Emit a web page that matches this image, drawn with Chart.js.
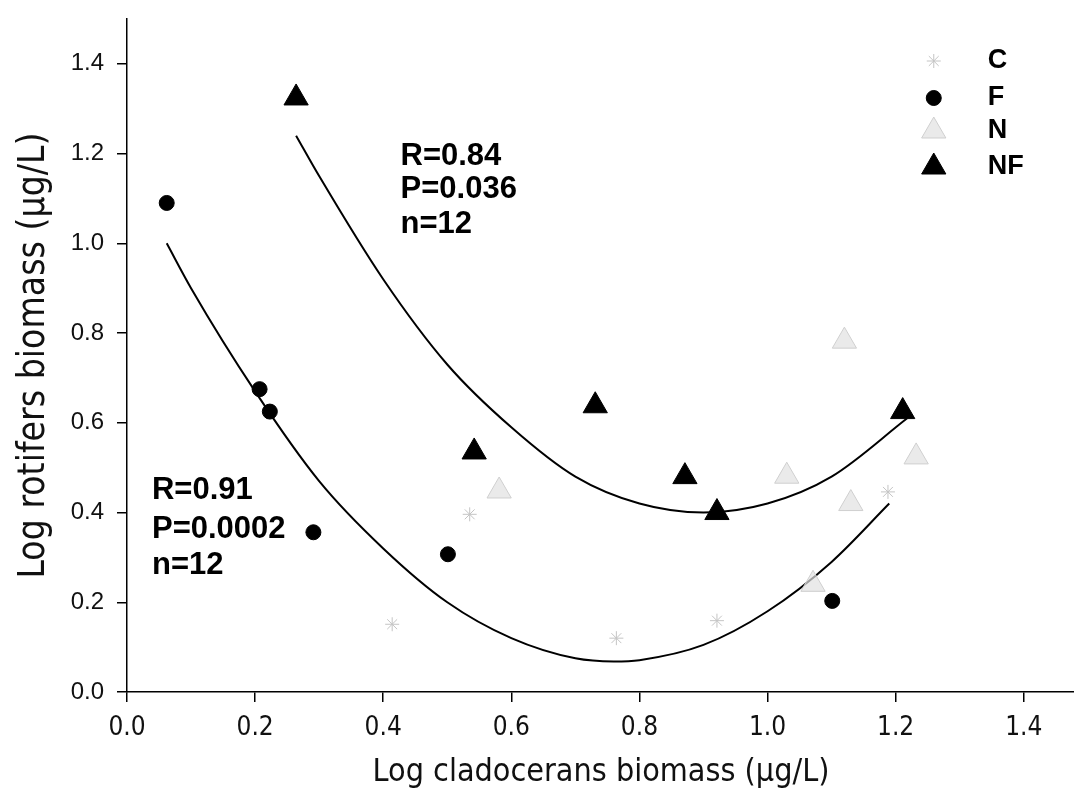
<!DOCTYPE html>
<html>
<head>
<meta charset="utf-8">
<script src="https://cdn.jsdelivr.net/npm/chart.js@4.4.1/dist/chart.umd.min.js"></script>
<style>
  html, body { margin: 0; padding: 0; background: #fff; overflow: hidden; }
  #clip { width: 1074px; height: 809px; overflow: hidden; position: relative; }
  #wrap { width: 1090px; height: 809px; position: relative; }
</style>
</head>
<body>
<div id="clip"><div id="wrap"><canvas id="plot"></canvas></div></div>
<script>
// data (log biomass, ug/L)
const cX = [0.535, 0.414, 0.764, 0.921, 1.188];
const cY = [0.396, 0.151, 0.120, 0.159, 0.446];
const fX = [0.062, 0.207, 0.223, 0.291, 0.501, 1.101];
const fY = [1.090, 0.675, 0.625, 0.356, 0.307, 0.203];
const nX = [0.581, 1.120, 1.232, 1.030, 1.130, 1.071];
const nY = [0.448, 0.782, 0.524, 0.481, 0.420, 0.240];
const nfX = [0.264, 0.542, 0.731, 0.871, 0.921, 1.211];
const nfY = [1.324, 0.535, 0.638, 0.480, 0.400, 0.625];

// fitted curves
const fFitX = [0.062, 0.1, 0.2, 0.3, 0.4, 0.5, 0.6, 0.7, 0.76, 0.8, 0.9, 1.0, 1.1, 1.19];
const fFitY = [1.00, 0.90, 0.67, 0.47, 0.32, 0.20, 0.12, 0.075, 0.068, 0.071, 0.105, 0.18, 0.29, 0.42];
const nfFitX = [0.264, 0.3, 0.4, 0.5, 0.6, 0.7, 0.8, 0.9, 1.0, 1.1, 1.218];
const nfFitY = [1.24, 1.15, 0.92, 0.73, 0.59, 0.48, 0.42, 0.40, 0.42, 0.48, 0.61];

const xTicks = [0, 0.2, 0.4, 0.6, 0.8, 1.0, 1.2, 1.4];
const yTicks = [0, 0.2, 0.4, 0.6, 0.8, 1.0, 1.2, 1.4];

// stats labels: [x, y] in data units
const statsUpper = ['R=0.84', 'P=0.036', 'n=12'];
const statsUpperPos = [[0.427, 1.193], [0.427, 1.119], [0.427, 1.041]];
const statsLower = ['R=0.91', 'P=0.0002', 'n=12'];
const statsLowerPos = [[0.039, 0.450], [0.039, 0.363], [0.039, 0.281]];

const legendLabels = ['C', 'F', 'N', 'NF'];

const pts = (xs, ys) => xs.map((x, i) => ({x: x, y: ys[i]}));

const narrow = "'Liberation Sans Narrow', 'DejaVu Sans Condensed', 'Liberation Sans', sans-serif";
const sans = "'Liberation Sans', Arial, sans-serif";

const styleC = {pointStyle: 'star', pointRadius: 7, borderColor: '#c4c4c4', backgroundColor: '#e4e4e4', pointBorderWidth: 1};
const styleF = {pointStyle: 'circle', pointRadius: 7.5, borderColor: '#000', backgroundColor: '#000', pointBorderWidth: 1};
const styleN = {pointStyle: 'triangle', pointRadius: 14, borderColor: '#cfcfcf', backgroundColor: 'rgba(225,225,225,0.7)', pointBorderWidth: 1};
const styleNF = {pointStyle: 'triangle', pointRadius: 14, borderColor: '#000', backgroundColor: '#000', pointBorderWidth: 1};

const overlay = {
  id: 'overlay',
  afterDatasetsDraw(chart) {
    const ctx = chart.ctx;
    const xs = chart.scales.x, ys = chart.scales.y;
    ctx.save();
    ctx.fillStyle = '#000';
    ctx.font = 'bold 31px ' + sans;
    ctx.textAlign = 'left';
    ctx.textBaseline = 'middle';
    statsUpper.forEach((t, i) => {
      ctx.fillText(t, xs.getPixelForValue(statsUpperPos[i][0]), ys.getPixelForValue(statsUpperPos[i][1]));
    });
    statsLower.forEach((t, i) => {
      ctx.fillText(t, xs.getPixelForValue(statsLowerPos[i][0]), ys.getPixelForValue(statsLowerPos[i][1]));
    });

    // legend, top right inside the plot (placed from the 1.4 tick)
    const styles = [styleC, styleF, styleN, styleNF];
    const rowY = [61, 98, 131, 167];
    const x14 = xs.getPixelForValue(1.4);
    const symX = x14 - 90;
    const txtX = x14 - 36;
    ctx.font = 'bold 27px ' + sans;
    legendLabels.forEach((lab, i) => {
      const s = styles[i];
      ctx.fillStyle = s.backgroundColor;
      ctx.strokeStyle = s.borderColor;
      ctx.lineWidth = s.pointBorderWidth;
      Chart.helpers.drawPoint(ctx, {pointStyle: s.pointStyle, radius: s.pointRadius, rotation: 0, borderWidth: s.pointBorderWidth}, symX, rowY[i]);
      ctx.fillStyle = '#000';
      ctx.fillText(lab, txtX, rowY[i]);
    });
    ctx.restore();
  }
};

new Chart(document.getElementById('plot'), {
  type: 'scatter',
  data: {
    datasets: [
      Object.assign({label: 'NF', data: pts(nfX, nfY)}, styleNF),
      Object.assign({label: 'F', data: pts(fX, fY)}, styleF),
      Object.assign({label: 'N', data: pts(nX, nY)}, styleN),
      Object.assign({label: 'C', data: pts(cX, cY)}, styleC),
      {label: 'NF fit', data: pts(nfFitX, nfFitY), showLine: true, pointRadius: 0,
       borderColor: '#000', borderWidth: 2, cubicInterpolationMode: 'monotone'},
      {label: 'F fit', data: pts(fFitX, fFitY), showLine: true, pointRadius: 0,
       borderColor: '#000', borderWidth: 2, cubicInterpolationMode: 'monotone'}
    ]
  },
  options: {
    responsive: true,
    maintainAspectRatio: false,
    animation: false,
    layout: {padding: {top: 19, right: 0, left: 0, bottom: 0}},
    plugins: {legend: {display: false}, tooltip: {enabled: false}},
    scales: {
      x: {
        type: 'linear', min: 0, max: 1.48,
        afterBuildTicks: s => { s.ticks = xTicks.map(v => ({value: v})); },
        afterFit: s => { s.height = 117; s.paddingLeft = 0; s.paddingRight = 0; },
        border: {display: true, color: '#000', width: 1.5},
        grid: {display: true, drawOnChartArea: false, drawTicks: true, tickLength: 10, color: '#000', lineWidth: 1.5},
        ticks: {color: '#111', padding: 11, font: {family: narrow, size: 26}, callback: v => v.toFixed(1), maxRotation: 0},
        title: {display: true, text: 'Log cladocerans biomass (\u00b5g/L)', color: '#111',
                font: {family: narrow, size: 32}, padding: {top: 0, bottom: 17}}
      },
      y: {
        type: 'linear', min: 0, max: 1.5,
        afterBuildTicks: s => { s.ticks = yTicks.map(v => ({value: v})); },
        afterFit: s => { s.width = 127; s.paddingTop = 0; s.paddingBottom = 0; },
        border: {display: true, color: '#000', width: 1.5},
        grid: {display: true, drawOnChartArea: false, drawTicks: true, tickLength: 10, color: '#000', lineWidth: 1.5},
        ticks: {color: '#111', padding: 13, font: {family: sans, size: 24}, callback: v => v.toFixed(1)},
        title: {display: true, text: 'Log rotifers biomass (\u00b5g/L)', color: '#111',
                font: {family: narrow, size: 37}, padding: {top: 12, bottom: 0}}
      }
    }
  },
  plugins: [overlay]
});
</script>
</body>
</html>
